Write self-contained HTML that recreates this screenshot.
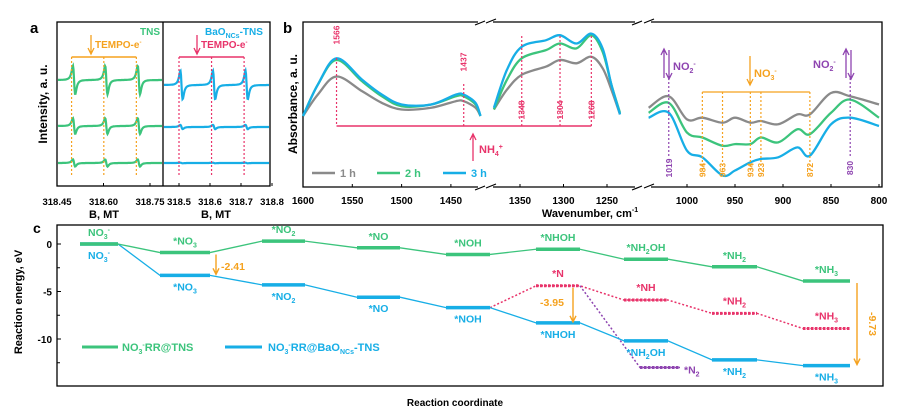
<!DOCTYPE html>
<html><head><meta charset="utf-8">
<style>
html,body{margin:0;padding:0;background:#fff;}
svg{display:block;font-family:"Liberation Sans",Arial,sans-serif;}
text{font-weight:bold;}
</style></head>
<body>
<svg id="fig" width="909" height="417" viewBox="0 0 909 417" xmlns="http://www.w3.org/2000/svg">
<g id="pa"></g>
<g id="pb"></g>
<g id="pc"></g>
</svg>
<script>
// ---------- Panel a data ----------
const aLeftPeaks = [318.497, 318.601, 318.706];
const aRightPeaks = [318.5, 318.605, 318.71];
const aLeftAmps = [1.0, 0.55, 0.25];
const aRightAmps = [1.0, 0.15, 0.02];
const aLeftTicks = ["318.45","318.60","318.75"];
const aRightTicks = ["318.5","318.6","318.7","318.8"];
// ---------- Panel b data ----------
const bSeg1W = [1600,1585,1566,1540,1520,1500,1470,1445,1437,1425,1420];
const bSeg1Gray = [43,56,67,58,51,47,48,52,52,48,43];
const bSeg1Green = [43,62,77,64,55,49,50,55,55,50,43];
const bSeg1Blue = [43,62,78,65,56,50,50,56,56,51,43];
const bSeg2W = [1380,1365,1348,1320,1304,1285,1268,1255,1245,1235];
const bSeg2Gray = [47,59,68,73,77,75,79,72,59,44];
const bSeg2Green = [47,65,78,83,87,84,92,82,62,45];
const bSeg2Blue = [48,71,85,89,92,87,93,84,62,44];
const bSeg3W = [1040,1019,1000,984,963,950,934,923,905,885,872,850,830,800];
const bSeg3Gray = [48,55,41,42,39,42,39,40,38,44,44,57,55,50];
const bSeg3Green = [45,51,33,30,25,26,26,30,27,35,32,45,53,42];
const bSeg3Blue = [42,45,22,18,7,10,15,17,18,24,19,38,42,37];
const bTicks1 = [1600,1550,1500,1450];
const bTicks2 = [1350,1300,1250];
const bTicks3 = [1000,950,900,850,800];
const bNH4Marks = [1566,1437,1348,1304,1268];
const bNO3Marks = [984,963,934,923,872];
const bNO2Marks = [1019,830];
// ---------- Panel c data ----------
const cSteps = ["NO3-","*NO3","*NO2","*NO","*NOH","*NHOH","*NH2OH","*NH2","*NH3"];
const cGreen = [0,-0.9,0.3,-0.4,-1.1,-0.55,-1.6,-2.4,-3.9];
const cBlue = [0,-3.3,-4.3,-5.6,-6.7,-8.3,-10.2,-12.2,-12.8];
const cRedSteps = [5,6,7,8];
const cRed = [-4.4,-5.9,-7.3,-8.9];
const cRedLabels = ["*N","*NH","*NH<tspan font-size='7' dy='3'>2</tspan>","*NH<tspan font-size='7' dy='3'>3</tspan>"];
const cN2 = -13.0;
const cYTicks = [0,-5,-10];

const NS="http://www.w3.org/2000/svg";
const GREEN="#3cc47c", BLUE="#17aee6", GRAY="#8a8a8a", RED="#e8336a", ORANGE="#f5a21f", PURPLE="#8e44b0";
function el(parent,tag,attrs,name,inter){
  const e=document.createElementNS(NS,tag);
  for(const k in attrs) e.setAttribute(k,attrs[k]);
  
  
  parent.appendChild(e);return e;
}
function txt(parent,x,y,html,attrs,name){
  const t=el(parent,'text',Object.assign({x:x,y:y},attrs||{}),name,false);
  t.innerHTML=html;return t;
}
function smooth(pts){
  let d="M"+pts[0][0].toFixed(1)+","+pts[0][1].toFixed(1);
  for(let i=0;i<pts.length-1;i++){
    const p0=pts[i-1]||pts[i],p1=pts[i],p2=pts[i+1],p3=pts[i+2]||p2;
    const c1=[p1[0]+(p2[0]-p0[0])/6,p1[1]+(p2[1]-p0[1])/6];
    const c2=[p2[0]-(p3[0]-p1[0])/6,p2[1]-(p3[1]-p1[1])/6];
    d+=" C"+c1.map(v=>v.toFixed(1))+" "+c2.map(v=>v.toFixed(1))+" "+p2[0].toFixed(1)+","+p2[1].toFixed(1);
  }
  return d;
}

// ================= PANEL A =================
const pa=document.getElementById('pa');
const axL=b=>57+(b-318.45)/0.3*93;
const axR=b=>179+(b-318.5)/0.1*31;
txt(pa,30,33,"a",{"font-size":15},"panel-a-label");
el(pa,'rect',{x:57,y:22,width:213,height:164,fill:"none",stroke:"#000","stroke-width":1.3},"panel-a-frame");
el(pa,'line',{x1:163,y1:22,x2:163,y2:186,stroke:"#000","stroke-width":1.3},"panel-a-divider");
const rowsL=[80,126,163], rowsR=[85,127,163];
function esr(xf,x0,x1,peaks,amp,base,color,name){
  const pts=[];
  for(let x=x0;x<=x1;x+=0.5){
    let y=base;
    peaks.forEach(p=>{const d=(x-xf(p)-2.5)/2.0;y+= amp*22*(2*d)/Math.pow(1+d*d,2);});
    pts.push(x.toFixed(1)+","+y.toFixed(1));
  }
  el(pa,'polyline',{points:pts.join(" "),fill:"none",stroke:color,"stroke-width":2.2},name);
}
rowsL.forEach((b,i)=>esr(axL,58,162,aLeftPeaks,aLeftAmps[i],b,GREEN,"tns-esr-trace-"+(i+1)));
rowsR.forEach((b,i)=>esr(axR,164,269,aRightPeaks,aRightAmps[i],b,BLUE,"bao-esr-trace-"+(i+1)));
aLeftPeaks.forEach((p,i)=>el(pa,'line',{x1:axL(p),y1:57,x2:axL(p),y2:175,stroke:ORANGE,"stroke-width":1.2,"stroke-dasharray":"2,2"},"tempo-marker-left-"+i));
aRightPeaks.forEach((p,i)=>el(pa,'line',{x1:axR(p),y1:57,x2:axR(p),y2:175,stroke:RED,"stroke-width":1.2,"stroke-dasharray":"2,2"},"tempo-marker-right-"+i));
el(pa,'line',{x1:axL(aLeftPeaks[0]),y1:57,x2:axL(aLeftPeaks[2]),y2:57,stroke:ORANGE,"stroke-width":1.5},"tempo-bracket-left");
el(pa,'line',{x1:axR(aRightPeaks[0]),y1:57,x2:axR(aRightPeaks[2]),y2:57,stroke:RED,"stroke-width":1.5},"tempo-bracket-right");
el(pa,'path',{d:"M91,35 V53 M88,48 L91,54 L94,48",fill:"none",stroke:ORANGE,"stroke-width":1.3},"tempo-arrow-left");
el(pa,'path',{d:"M197,35 V53 M194,48 L197,54 L200,48",fill:"none",stroke:RED,"stroke-width":1.3},"tempo-arrow-right");
txt(pa,95,48,"TEMPO-e<tspan font-size='6' dy='-4'>-</tspan>",{"font-size":10,fill:ORANGE},"tempo-label-left");
txt(pa,201,48,"TEMPO-e<tspan font-size='6' dy='-4'>-</tspan>",{"font-size":10,fill:RED},"tempo-label-right");
txt(pa,140,35,"TNS",{"font-size":10,fill:GREEN},"tns-label");
txt(pa,205,35,"BaO<tspan font-size='7' dy='3'>NCs</tspan><tspan dy='-3'>-TNS</tspan>",{"font-size":10,fill:BLUE},"bao-tns-label");
aLeftTicks.forEach(t=>{const x=axL(+t);el(pa,'line',{x1:x,y1:186,x2:x,y2:183,stroke:"#000"},"tick-a-left");txt(pa,x,205,t,{"font-size":9.5,"text-anchor":"middle"},"tick-label-a-left");});
aRightTicks.forEach(t=>{const x=axR(+t);el(pa,'line',{x1:x,y1:186,x2:x,y2:183,stroke:"#000"},"tick-a-right");txt(pa,x,205,t,{"font-size":9.5,"text-anchor":"middle"},"tick-label-a-right");});
txt(pa,104,218,"B, MT",{"font-size":11,"text-anchor":"middle"},"x-axis-title-a-left");
txt(pa,216,218,"B, MT",{"font-size":11,"text-anchor":"middle"},"x-axis-title-a-right");
txt(pa,0,0,"Intensity, a. u.",{"font-size":12,transform:"translate(47,104) rotate(-90)","text-anchor":"middle"},"y-axis-title-a");

// ================= PANEL B =================
const pb=document.getElementById('pb');
function bx(w){ if(w>=1415) return 303+(1600-w)*0.986; if(w>=1200) return 520+(1350-w)*0.87; return 687+(1000-w)*0.96;}
const by=v=>187-v*1.65;
txt(pb,283,33,"b",{"font-size":15},"panel-b-label");
el(pb,'path',{d:"M303,22 H882 V187 H303 Z",fill:"none",stroke:"#000","stroke-width":1.3},"panel-b-frame");
[[477,494],[634,652]].forEach((b,i)=>{
  el(pb,'rect',{x:b[0]+1,y:17,width:b[1]-b[0]-2,height:10,fill:"#fff"},"axis-break-top-"+i);
  el(pb,'rect',{x:b[0]+1,y:182,width:b[1]-b[0]-2,height:10,fill:"#fff"},"axis-break-bottom-"+i);
  [22,187].forEach(y=>{el(pb,'line',{x1:b[0]-2,y1:y+3,x2:b[0]+8,y2:y-1,stroke:"#000","stroke-width":1.2},"break-mark");el(pb,'line',{x1:b[1]-8,y1:y+1,x2:b[1]+2,y2:y-3,stroke:"#000","stroke-width":1.2},"break-mark");});
});
function curve(W,V,color,name){el(pb,'path',{d:smooth(W.map((w,i)=>[bx(w),by(V[i])])),fill:"none",stroke:color,"stroke-width":2.3},name);}
[[bSeg1W,bSeg1Gray,bSeg1Green,bSeg1Blue],[bSeg2W,bSeg2Gray,bSeg2Green,bSeg2Blue],[bSeg3W,bSeg3Gray,bSeg3Green,bSeg3Blue]].forEach((s,i)=>{
  curve(s[0],s[1],GRAY,"spectrum-1h-seg"+(i+1));
  curve(s[0],s[2],GREEN,"spectrum-2h-seg"+(i+1));
  curve(s[0],s[3],BLUE,"spectrum-3h-seg"+(i+1));
});
el(pb,'line',{x1:bx(1566),y1:126,x2:bx(1268),y2:126,stroke:RED,"stroke-width":1.5},"nh4-bracket");
bNH4Marks.forEach((w,i)=>{
  const x=bx(w);const top=(w==1566||w==1437)?(w==1566?58:84):36;
  el(pb,'line',{x1:x,y1:top,x2:x,y2:126,stroke:RED,"stroke-width":1.2,"stroke-dasharray":"2,2"},"nh4-marker-"+w);
  const ly=(w==1566||w==1437)?(w==1566?35:62):110;
  txt(pb,0,0,String(w),{"font-size":8.5,fill:RED,"font-weight":"normal",transform:`translate(${x+3},${ly}) rotate(-90)`,"text-anchor":"middle"},"nh4-label-"+w);
});
el(pb,'path',{d:"M473,161 V135 M470,140 L473,134 L476,140",fill:"none",stroke:RED,"stroke-width":1.3},"nh4-arrow");
txt(pb,479,153,"NH<tspan font-size='7' dy='3'>4</tspan><tspan font-size='7' dy='-7'>+</tspan>",{"font-size":11,fill:RED},"nh4-label");
el(pb,'line',{x1:bx(984),y1:92,x2:bx(872),y2:92,stroke:ORANGE,"stroke-width":1.3},"no3-bracket");
bNO3Marks.forEach(w=>{const x=bx(w);
  el(pb,'line',{x1:x,y1:92,x2:x,y2:172,stroke:ORANGE,"stroke-width":1.2,"stroke-dasharray":"2,2"},"no3-marker-"+w);
  txt(pb,0,0,String(w),{"font-size":8.5,fill:ORANGE,"font-weight":"normal",transform:`translate(${x+3},${170}) rotate(-90)`,"text-anchor":"middle"},"no3-label-"+w);});
el(pb,'path',{d:"M750,56 V84 M747,79 L750,85 L753,79",fill:"none",stroke:ORANGE,"stroke-width":1.3},"no3-arrow");
txt(pb,754,77,"NO<tspan font-size='7' dy='3'>3</tspan><tspan font-size='7' dy='-7'>-</tspan>",{"font-size":11,fill:ORANGE},"no3-label");
bNO2Marks.forEach(w=>{const x=bx(w);
  el(pb,'line',{x1:x,y1:78,x2:x,y2:157,stroke:PURPLE,"stroke-width":1.2,"stroke-dasharray":"2,2"},"no2-marker-"+w);
  txt(pb,0,0,String(w),{"font-size":8.5,fill:PURPLE,"font-weight":"normal",transform:`translate(${x+3},${168}) rotate(-90)`,"text-anchor":"middle"},"no2-label-"+w);});
el(pb,'path',{d:"M664,78 V50 M661,55 L664,49 L667,55 M669,50 V78 M666,73 L669,79 L672,73",fill:"none",stroke:PURPLE,"stroke-width":1.3},"no2-arrows-left");
txt(pb,673,70,"NO<tspan font-size='7' dy='3'>2</tspan><tspan font-size='7' dy='-7'>-</tspan>",{"font-size":11,fill:PURPLE},"no2-label-left");
el(pb,'path',{d:"M846,78 V50 M843,55 L846,49 L849,55 M851,50 V78 M848,73 L851,79 L854,73",fill:"none",stroke:PURPLE,"stroke-width":1.3},"no2-arrows-right");
txt(pb,813,68,"NO<tspan font-size='7' dy='3'>2</tspan><tspan font-size='7' dy='-7'>-</tspan>",{"font-size":11,fill:PURPLE},"no2-label-right");
[["1 h",GRAY,312],["2 h",GREEN,377],["3 h",BLUE,443]].forEach((l,i)=>{
  el(pb,'line',{x1:l[2],y1:173,x2:l[2]+23,y2:173,stroke:l[1],"stroke-width":2.5},"legend-line-"+(i+1)+"h");
  txt(pb,l[2]+28,177,l[0],{"font-size":11,fill:l[1]},"legend-entry-"+(i+1)+"h");
});
[bTicks1,bTicks2,bTicks3].forEach(T=>T.forEach(w=>{const x=bx(w);
  el(pb,'line',{x1:x,y1:187,x2:x,y2:184,stroke:"#000"},"tick-b");
  txt(pb,x,204,String(w),{"font-size":10,"text-anchor":"middle"},"tick-label-b");}));
txt(pb,590,217,"Wavenumber, cm<tspan font-size='7' dy='-5'>-1</tspan>",{"font-size":11,"text-anchor":"middle"},"x-axis-title-b");
txt(pb,0,0,"Absorbance, a. u.",{"font-size":12,transform:"translate(297,104) rotate(-90)","text-anchor":"middle"},"y-axis-title-b");

// ================= PANEL C =================
const pc=document.getElementById('pc');
const cx0=[80,160,262,357,446,536,624,712,803], cw=[38,50,43,43,44,44,44,45,47];
const cy=e=>244-e*9.5;
txt(pc,33,233,"c",{"font-size":14},"panel-c-label");
el(pc,'rect',{x:57,y:225,width:826,height:161,fill:"none",stroke:"#000","stroke-width":1.3},"panel-c-frame");
cYTicks.forEach(t=>{el(pc,'line',{x1:57,y1:cy(t),x2:61,y2:cy(t),stroke:"#000"},"tick-c");txt(pc,52,cy(t)+4,String(t),{"font-size":10,"text-anchor":"end","font-weight":"normal"},"tick-label-c");});
[-2.5,-7.5,-12.5].forEach(t=>el(pc,'line',{x1:57,y1:cy(t),x2:60,y2:cy(t),stroke:"#000"},"minor-tick-c"));
txt(pc,0,0,"Reaction energy, eV",{"font-size":11,transform:"translate(22,302) rotate(-90)","text-anchor":"middle"},"y-axis-title-c");
txt(pc,455,406,"Reaction coordinate",{"font-size":10,"text-anchor":"middle"},"x-axis-title-c");
function profile(vals,color,name){
  let d="";vals.forEach((v,i)=>{d+=(i?" L":"M")+cx0[i]+","+cy(v)+" L"+(cx0[i]+cw[i])+","+cy(v);});
  el(pc,'path',{d:d,fill:"none",stroke:color,"stroke-width":1.3},name+"-connector");
  vals.forEach((v,i)=>el(pc,'line',{x1:cx0[i],y1:cy(v),x2:cx0[i]+cw[i],y2:cy(v),stroke:color,"stroke-width":3.5},name+"-level-"+i));
}
let rd="M"+(cx0[4]+cw[4])+","+cy(cBlue[4]);
cRed.forEach((v,i)=>{const s=cRedSteps[i];rd+=" L"+cx0[s]+","+cy(v)+" L"+(cx0[s]+cw[s])+","+cy(v);});
el(pc,'path',{d:rd,fill:"none",stroke:RED,"stroke-width":1.5,"stroke-dasharray":"2,2"},"nh-pathway-connector");
cRed.forEach((v,i)=>{const s=cRedSteps[i];el(pc,'line',{x1:cx0[s],y1:cy(v),x2:cx0[s]+cw[s],y2:cy(v),stroke:RED,"stroke-width":3,"stroke-dasharray":"2.5,1.5"},"nh-pathway-level-"+i);
  txt(pc,cx0[s]+cw[s]/2,cy(v)-9,cRedLabels[i],{"font-size":10.5,fill:RED,"text-anchor":"middle"},"nh-pathway-label-"+i);});
el(pc,'path',{d:`M${cx0[5]+cw[5]},${cy(cRed[0])} L640,${cy(cN2)} L680,${cy(cN2)}`,fill:"none",stroke:PURPLE,"stroke-width":1.5,"stroke-dasharray":"2,2"},"n2-pathway-connector");
el(pc,'line',{x1:640,y1:cy(cN2),x2:680,y2:cy(cN2),stroke:PURPLE,"stroke-width":3,"stroke-dasharray":"2.5,1.5"},"n2-level");
txt(pc,684,cy(cN2)+6,"*N<tspan font-size='7' dy='3'>2</tspan>",{"font-size":10.5,fill:PURPLE},"n2-label");
profile(cBlue,BLUE,"bao-tns-pathway");
profile(cGreen,GREEN,"tns-pathway");
const labs0=["NO<tspan font-size='7' dy='3'>3</tspan><tspan font-size='7' dy='-7'>-</tspan>","*NO<tspan font-size='7' dy='3'>3</tspan>","*NO<tspan font-size='7' dy='3'>2</tspan>","*NO","*NOH","*NHOH","*NH<tspan font-size='7' dy='3'>2</tspan><tspan dy='-3'>OH</tspan>","*NH<tspan font-size='7' dy='3'>2</tspan>","*NH<tspan font-size='7' dy='3'>3</tspan>"];
cGreen.forEach((v,i)=>txt(pc,cx0[i]+cw[i]/2,cy(v)-8,labs0[i],{"font-size":10.5,fill:GREEN,"text-anchor":"middle"},"tns-label-"+i));
cBlue.forEach((v,i)=>txt(pc,cx0[i]+cw[i]/2,cy(v)+15,labs0[i],{"font-size":10.5,fill:BLUE,"text-anchor":"middle"},"bao-tns-label-"+i));
function arrow(x,e1,e2,name){const y1=cy(e1)+2,y2=cy(e2)-1;
  el(pc,'path',{d:`M${x},${y1} V${y2} M${x-3},${y2-6} L${x},${y2} L${x+3},${y2-6}`,fill:"none",stroke:ORANGE,"stroke-width":1.4},name);}
arrow(216,cGreen[1],cBlue[1],"gap-arrow-no3");
txt(pc,221,270,"-2.41",{"font-size":10.5,fill:ORANGE},"gap-label-no3");
arrow(573,cRed[0],cBlue[5],"gap-arrow-nhoh");
txt(pc,540,306,"-3.95",{"font-size":10.5,fill:ORANGE},"gap-label-nhoh");
arrow(857,cGreen[8],cBlue[8],"gap-arrow-nh3");
txt(pc,0,0,"-9.73",{"font-size":10.5,fill:ORANGE,transform:"translate(869,324) rotate(90)","text-anchor":"middle"},"gap-label-nh3");
el(pc,'line',{x1:82,y1:347,x2:118,y2:347,stroke:GREEN,"stroke-width":3},"legend-line-tns");
txt(pc,122,351,"NO<tspan font-size='7' dy='3'>3</tspan><tspan font-size='7' dy='-7'>-</tspan><tspan dy='4'>RR@TNS</tspan>",{"font-size":11,fill:GREEN,"font-weight":"normal"},"legend-entry-tns");
el(pc,'line',{x1:225,y1:347,x2:262,y2:347,stroke:BLUE,"stroke-width":3},"legend-line-bao-tns");
txt(pc,268,351,"NO<tspan font-size='7' dy='3'>3</tspan><tspan font-size='7' dy='-7'>-</tspan><tspan dy='4'>RR@BaO</tspan><tspan font-size='7' dy='3'>NCs</tspan><tspan dy='-3'>-TNS</tspan>",{"font-size":11,fill:BLUE,"font-weight":"normal"},"legend-entry-bao-tns");
</script>
</body></html>
